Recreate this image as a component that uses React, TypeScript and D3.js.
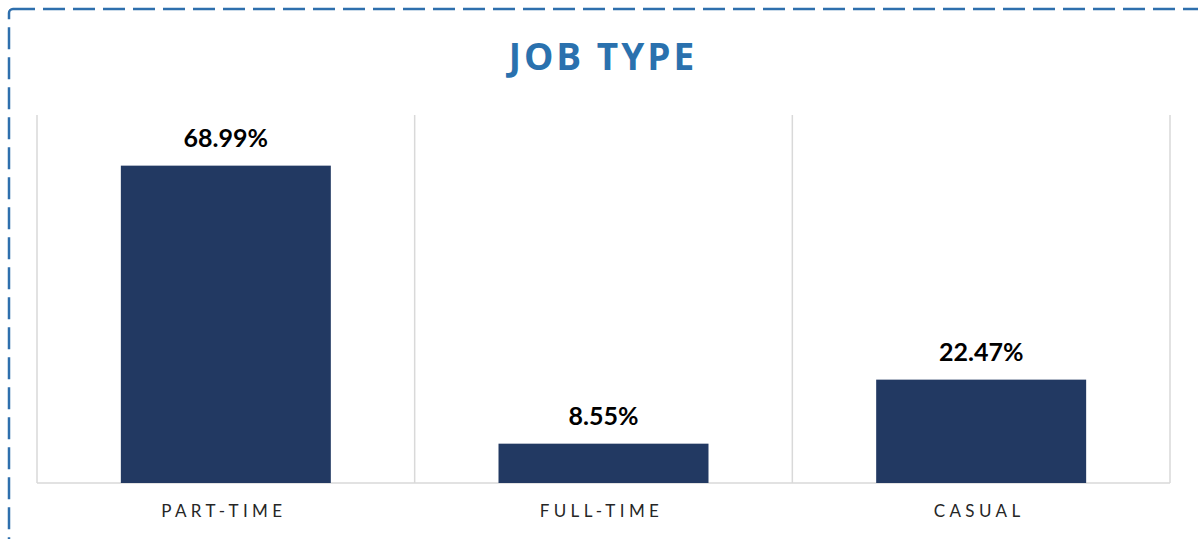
import React from "react";
import * as d3 from "d3";

const categories: string[] = ["PART-TIME", "FULL-TIME", "CASUAL"];
const values: number[] = [0.6899, 0.0855, 0.2247];
const valueLabels: string[] = ["68.99%", "8.55%", "22.47%"];
const title = "JOB TYPE";

const W = 1198;
const H = 539;

export default function App() {
  const x = d3
    .scaleBand<string>()
    .domain(categories)
    .range([37, 1170])
    .paddingInner(0.444)
    .paddingOuter(0.222);
  const y = d3.scaleLinear().domain([0, 0.8]).range([483, 115]);
  const step = x.step();
  const gridXs = d3.range(categories.length + 1).map((i) => 37 + i * step);

  return (
    <svg
      width={W}
      height={H}
      style={{ position: "absolute", left: 0, top: 0, background: "#fff" }}
    >
      <rect
        x={9}
        y={9}
        width={1220}
        height={560}
        rx={4}
        fill="none"
        stroke="#2E6FAD"
        strokeWidth={2.5}
        strokeDasharray="22 8"
      />
      <text
        x={603}
        y={70}
        textAnchor="middle"
        fontFamily="'Open Sans', sans-serif"
        fontWeight={700}
        fontSize={37}
        letterSpacing={3}
        fill="#2A71AE"
      >
        {title}
      </text>
      {gridXs.map((gx, i) => (
        <line
          key={i}
          x1={gx}
          x2={gx}
          y1={y(0.8)}
          y2={y(0)}
          stroke="#D9D9D9"
          strokeWidth={1.5}
        />
      ))}
      <line x1={37} x2={1170} y1={y(0)} y2={y(0)} stroke="#D9D9D9" strokeWidth={1.5} />
      {categories.map((c, i) => (
        <g key={c}>
          <rect
            x={x(c)}
            y={y(values[i])}
            width={x.bandwidth()}
            height={y(0) - y(values[i])}
            fill="#223962"
          />
          <text
            x={(x(c) as number) + x.bandwidth() / 2}
            y={y(values[i]) - 19}
            textAnchor="middle"
            fontFamily="Lato, sans-serif"
            fontWeight={700}
            fontSize={25}
            fill="#000"
          >
            {valueLabels[i]}
          </text>
          <text
            x={(x(c) as number) + x.bandwidth() / 2 - 2}
            y={517}
            textAnchor="middle"
            fontFamily="Lato, sans-serif"
            fontSize={17}
            letterSpacing={4.4}
            fill="#262626"
          >
            {c}
          </text>
        </g>
      ))}
    </svg>
  );
}
